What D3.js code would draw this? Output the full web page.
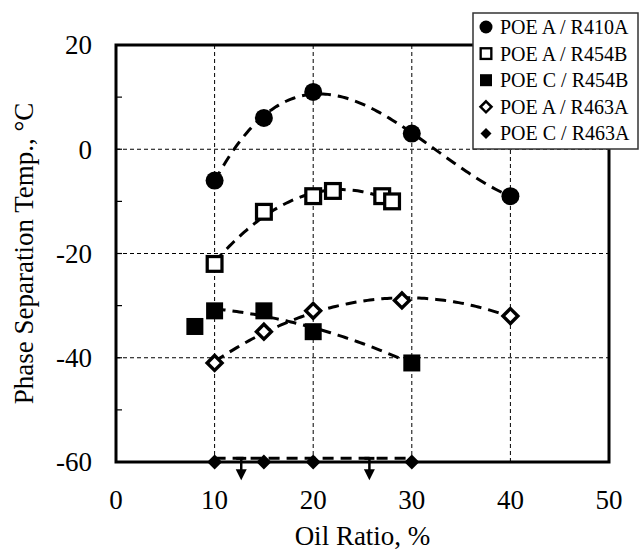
<!DOCTYPE html>
<html>
<head>
<meta charset="utf-8">
<script src="https://cdn.jsdelivr.net/npm/d3@7"></script>
<style>
  html, body { margin: 0; padding: 0; background: #fff; }
  svg { display: block; font-family: "Liberation Serif", "Times New Roman", serif; }
</style>
</head>
<body>
<svg id="chart" width="639" height="550"></svg>
<script>
// Oil ratio (%) vs. phase separation temperature (°C)
const r410aA = { x: [10, 15, 20, 30, 40], y: [-6, 6, 11, 3, -9] };
const r454bA = { x: [10, 15, 20, 22, 27, 28], y: [-22, -12, -9, -8, -9, -10] };
const r454bC = { x: [8, 10, 15, 20, 30], y: [-34, -31, -31, -35, -41] };
const r463aA = { x: [10, 15, 20, 29, 40], y: [-41, -35, -31, -29, -32] };
const r463aC = { x: [10, 15, 20, 30], y: [-60, -60, -60, -60] };

// "below" markers for POE C / R463A
const belowArrowX = [12.7, 25.7];
const belowLineY = -59.3;

const legendLabels = ['POE A / R410A', 'POE A / R454B', 'POE C / R454B', 'POE A / R463A', 'POE C / R463A'];
const xTicks = [0, 10, 20, 30, 40, 50];
const yTicks = [20, 0, -20, -40, -60];
const yMinorTicks = [10, -10, -30, -50];

const svg = d3.select('#chart');
const m = { left: 116, top: 45, right: 30, bottom: 88 };
const W = 639, H = 550;

const x = d3.scaleLinear().domain([0, 50]).range([m.left, W - m.right]);
const y = d3.scaleLinear().domain([-60, 20]).range([H - m.bottom, m.top]);

// least squares polynomial
function polyfit(xs, ys, order) {
  const n = order + 1;
  const A = [];
  for (let i = 0; i < n; i++) {
    A.push([]);
    for (let j = 0; j < n; j++) A[i].push(d3.sum(xs, (v) => Math.pow(v, i + j)));
    A[i].push(d3.sum(xs, (v, k) => Math.pow(v, i) * ys[k]));
  }
  for (let c = 0; c < n; c++) {
    let p = c;
    for (let r = c + 1; r < n; r++) if (Math.abs(A[r][c]) > Math.abs(A[p][c])) p = r;
    [A[c], A[p]] = [A[p], A[c]];
    for (let r = 0; r < n; r++) {
      if (r === c) continue;
      const f = A[r][c] / A[c][c];
      for (let k = c; k <= n; k++) A[r][k] -= f * A[c][k];
    }
  }
  const coef = A.map((row, i) => row[n] / row[i]);
  return (v) => coef.reduce((s, a, i) => s + a * Math.pow(v, i), 0);
}

const series = [
  { d: r410aA, marker: 'circle', fit: 3, from: 10, to: 40 },
  { d: r454bA, marker: 'squareOpen', fit: 2, from: 10, to: 28 },
  { d: r454bC, marker: 'square', fit: 2, from: 10, to: 30 },
  { d: r463aA, marker: 'diamondOpen', fit: 2, from: 10, to: 40 },
  { d: r463aC, marker: 'diamond', fit: null },
];

// gridlines
const grid = svg.append('g').attr('stroke', '#000').attr('stroke-width', 1).attr('stroke-dasharray', '4,3');
grid.selectAll('.gx').data([10, 20, 30, 40]).join('line')
  .attr('x1', (d) => x(d)).attr('x2', (d) => x(d))
  .attr('y1', y(20)).attr('y2', y(-60));
grid.selectAll('.gy').data([0, -20, -40]).join('line')
  .attr('x1', x(0)).attr('x2', x(50))
  .attr('y1', (d) => y(d)).attr('y2', (d) => y(d));

// inner ticks on left axis
svg.append('g').selectAll('line').data(yMinorTicks.concat(yTicks)).join('line')
  .attr('x1', x(0)).attr('x2', x(0) + 6)
  .attr('y1', (d) => y(d)).attr('y2', (d) => y(d))
  .attr('stroke', '#000').attr('stroke-width', 1.2);

// trend curves, fitted on the points inside from..to
const line = d3.line().x((d) => x(d[0])).y((d) => y(d[1]));
series.filter((s) => s.fit).forEach((s) => {
  const idx = s.d.x.map((v, i) => i).filter((i) => s.d.x[i] >= s.from && s.d.x[i] <= s.to);
  const f = polyfit(idx.map((i) => s.d.x[i]), idx.map((i) => s.d.y[i]), s.fit);
  const pts = d3.range(s.from, s.to + 0.001, 0.25).map((v) => [v, f(v)]);
  svg.append('path').datum(pts).attr('d', line)
    .attr('fill', 'none').attr('stroke', '#000').attr('stroke-width', 3)
    .attr('stroke-dasharray', '11,7');
});

// POE C / R463A level line
svg.append('line')
  .attr('x1', x(d3.min(r463aC.x))).attr('x2', x(d3.max(r463aC.x)))
  .attr('y1', y(belowLineY)).attr('y2', y(belowLineY))
  .attr('stroke', '#000').attr('stroke-width', 3).attr('stroke-dasharray', '11,7');

// frame
svg.append('rect')
  .attr('x', x(0)).attr('y', y(20))
  .attr('width', x(50) - x(0)).attr('height', y(-60) - y(20))
  .attr('fill', 'none').attr('stroke', '#000').attr('stroke-width', 3);

const arrows = svg.append('g');
belowArrowX.forEach((v) => {
  const ax = x(v), top = y(belowLineY);
  arrows.append('line').attr('x1', ax - 5).attr('x2', ax + 5).attr('y1', top).attr('y2', top)
    .attr('stroke', '#000').attr('stroke-width', 3);
  arrows.append('line').attr('x1', ax).attr('x2', ax).attr('y1', top).attr('y2', top + 13)
    .attr('stroke', '#000').attr('stroke-width', 2.5);
  arrows.append('path')
    .attr('d', `M${ax - 5.5},${top + 11}L${ax + 5.5},${top + 11}L${ax},${top + 22}Z`)
    .attr('fill', '#000');
});

// markers
function drawMarker(g, type, size) {
  const s = size;
  if (type === 'circle') {
    g.append('circle').attr('r', s / 2).attr('fill', '#000');
  } else if (type === 'square') {
    g.append('rect').attr('x', -s / 2).attr('y', -s / 2).attr('width', s).attr('height', s).attr('fill', '#000');
  } else if (type === 'squareOpen') {
    const sw = s * 0.18;
    g.append('rect').attr('x', -s / 2 + sw / 2).attr('y', -s / 2 + sw / 2)
      .attr('width', s - sw).attr('height', s - sw)
      .attr('fill', '#fff').attr('stroke', '#000').attr('stroke-width', sw);
  } else if (type === 'diamond') {
    const h = s / 2;
    g.append('path').attr('d', `M0,${-h}L${h},0L0,${h}L${-h},0Z`).attr('fill', '#000');
  } else if (type === 'diamondOpen') {
    const sw = s * 0.18;
    const h = s / 2 - sw * 0.6;
    g.append('path').attr('d', `M0,${-h}L${h},0L0,${h}L${-h},0Z`)
      .attr('fill', '#fff').attr('stroke', '#000').attr('stroke-width', sw);
  }
}

const markerSize = { circle: 18, square: 17, squareOpen: 18, diamond: 15, diamondOpen: 19 };
series.forEach((s) => {
  s.d.x.forEach((v, i) => {
    const g = svg.append('g').attr('transform', `translate(${x(v)},${y(s.d.y[i])})`);
    drawMarker(g, s.marker, markerSize[s.marker]);
  });
});

// axis labels
svg.append('g').selectAll('text').data(xTicks).join('text')
  .attr('x', (d) => x(d)).attr('y', 509)
  .attr('text-anchor', 'middle').attr('font-size', 27).attr('fill', '#000')
  .text((d) => d);

svg.append('g').selectAll('text').data(yTicks).join('text')
  .attr('x', 92).attr('y', (d) => y(d)).attr('dy', '0.35em')
  .attr('text-anchor', 'end').attr('font-size', 27).attr('fill', '#000')
  .text((d) => d);

svg.append('text')
  .attr('x', (x(0) + x(50)) / 2).attr('y', 545)
  .attr('text-anchor', 'middle').attr('font-size', 27).attr('fill', '#000')
  .text('Oil Ratio, %');

svg.append('text')
  .attr('transform', `translate(33,${(y(20) + y(-60)) / 2}) rotate(-90)`)
  .attr('text-anchor', 'middle').attr('font-size', 27).attr('fill', '#000')
  .text('Phase Separation Temp., °C');

// legend
const legend = svg.append('g');
legend.append('rect')
  .attr('x', 473).attr('y', 13).attr('width', 165).attr('height', 136)
  .attr('fill', '#fff').attr('stroke', '#333').attr('stroke-width', 1.5);
const legendSize = { circle: 13, square: 12, squareOpen: 13, diamond: 11, diamondOpen: 14 };
legendLabels.forEach((label, i) => {
  const ly = 27 + i * 26.6;
  const g = legend.append('g').attr('transform', `translate(486,${ly})`);
  drawMarker(g, series[i].marker, legendSize[series[i].marker]);
  legend.append('text')
    .attr('x', 500).attr('y', ly).attr('dy', '0.35em')
    .attr('font-size', 20).attr('fill', '#000')
    .text(label);
});
</script>
</body>
</html>
